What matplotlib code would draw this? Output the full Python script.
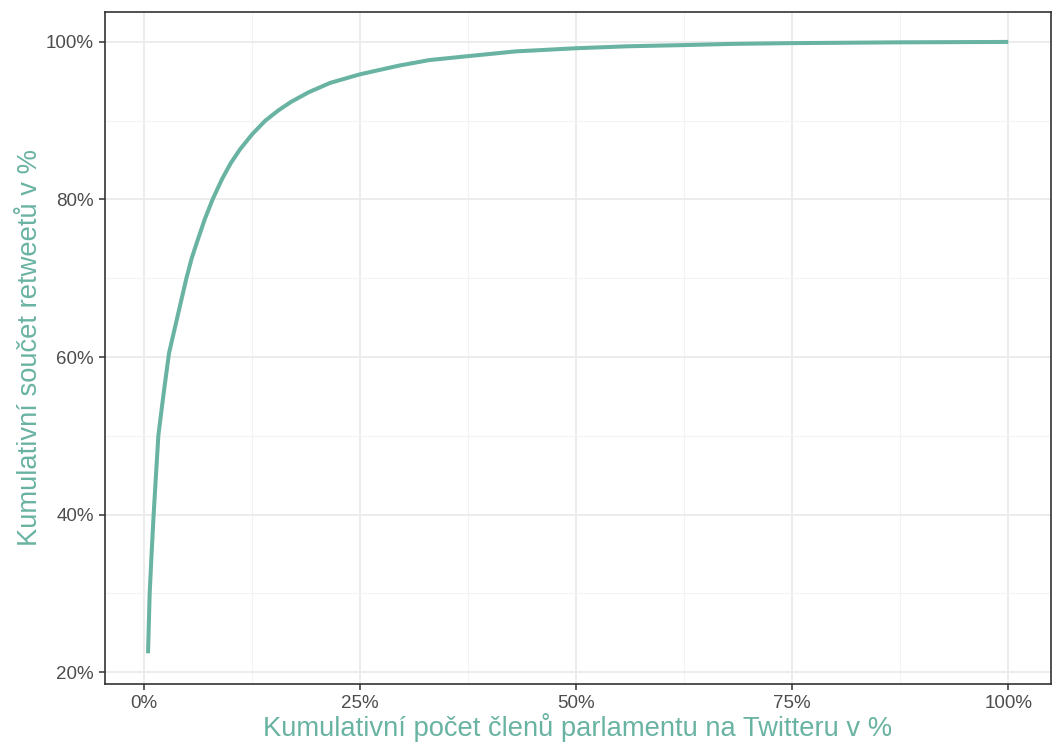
import matplotlib
matplotlib.use("Agg")
import matplotlib.pyplot as plt
from matplotlib.ticker import FuncFormatter, MultipleLocator

# Values (cumulative % of MPs vs cumulative % of retweets)
members_pct = [0.43, 0.62, 0.85, 1.08, 1.35, 1.63, 2.25, 2.86, 4.87,
               5.5, 6.1, 7.0, 7.9, 9.0, 10.0, 11.1, 12.5, 14.0, 15.5, 17.0,
               19.0, 21.5, 25.0, 29.5, 33.0, 37.5, 43.0, 50.0, 56.0, 62.5,
               68.0, 75.0, 87.5, 100.0]
retweets_pct = [22.4, 30.0, 35.2, 40.0, 45.0, 50.1, 55.5, 60.5, 70.0,
                72.6, 74.6, 77.5, 80.0, 82.6, 84.6, 86.4, 88.3, 90.0, 91.3, 92.4,
                93.6, 94.8, 95.9, 97.0, 97.7, 98.2, 98.8, 99.2, 99.45, 99.6,
                99.75, 99.85, 99.95, 100.0]

line_color = "#69b3a2"

plt.rcParams['font.family'] = ['Liberation Sans', 'DejaVu Sans']

fig = plt.figure(figsize=(10.56, 7.49), dpi=100)
ax = fig.add_axes([105 / 1056, 1 - 684 / 749, (1051 - 105) / 1056, (684 - 12) / 749])

ax.plot(members_pct, retweets_pct, color=line_color, lw=2.9,
        solid_capstyle="butt", solid_joinstyle="round", zorder=3)

ax.set_xlim(-4.55, 104.95)
ax.set_ylim(18.5, 103.8)

ax.xaxis.set_major_locator(MultipleLocator(25))
ax.xaxis.set_minor_locator(MultipleLocator(12.5))
ax.yaxis.set_major_locator(MultipleLocator(20))
ax.yaxis.set_minor_locator(MultipleLocator(10))
pct = FuncFormatter(lambda v, _: "{:.0f}%".format(v))
ax.xaxis.set_major_formatter(pct)
ax.yaxis.set_major_formatter(pct)

ax.grid(which="major", color="#ebebeb", lw=1.3)
ax.grid(which="minor", color="#f3f3f3", lw=0.8)
ax.set_axisbelow(True)

for s in ax.spines.values():
    s.set_color("#333333")
    s.set_linewidth(1.2)

ax.tick_params(which="major", length=4, width=1.1, color="#333333",
               labelsize=13.5, labelcolor="#4d4d4d", pad=4)
ax.tick_params(which="minor", length=0)

ax.set_xlabel("Kumulativní počet členů parlamentu na Twitteru v %",
              color=line_color, fontsize=19.7, labelpad=1)
ax.set_ylabel("Kumulativní součet retweetů v %",
              color=line_color, fontsize=19.7, labelpad=2)

fig.savefig("out.png", dpi=100)
